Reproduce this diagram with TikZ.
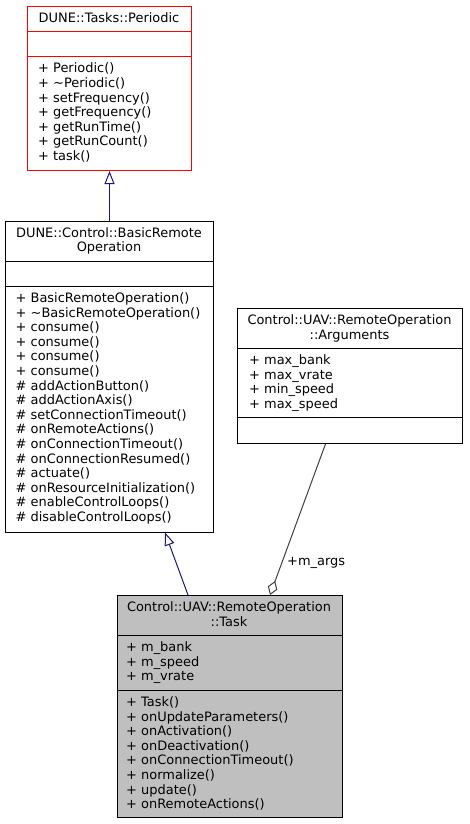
\documentclass[tikz,border=0pt]{standalone}
\usepackage{fontspec}
\setmainfont{DejaVu Sans}
\usetikzlibrary{arrows.meta,calc}
\definecolor{navy}{RGB}{25,25,112}
\definecolor{aggr}{RGB}{64,64,64}
\definecolor{taskfill}{RGB}{191,191,191}
\newcommand\umlfont{\fontsize{12.95}{14.6}\selectfont}
\newcommand\seclines[4]{%
  \foreach \t [count=\i from 0] in {#4} {\node[txt] (#1\i) at (#2,#3+14.6*\i) {\t};}}
\tikzset{
  box/.style={draw=black, line width=1pt, anchor=north west, inner sep=0pt},
  divider/.style={draw=black, line width=1pt},
  txt/.style={anchor=base west, inner sep=0pt, font=\umlfont},
  ttl/.style={anchor=base, inner sep=0pt, font=\umlfont},
  inh/.style={draw=navy, line width=1pt, -{Triangle[open,length=13pt,width=10pt]}},
  agg/.style={draw=aggr, line width=1pt, -{Diamond[open,length=15pt,width=10pt]}}
}
\begin{document}
\begin{tikzpicture}[x=1pt,y=-1pt]
\fill[white] (0,0) rectangle (469,824);
\useasboundingbox (0,0) rectangle (469,824);

% Periodic
\node[box, draw=red, minimum width=164pt, minimum height=164pt] (periodic) at (27,6) {};
\draw[divider, draw=red] (periodic.west |- 0,31.5) -- (periodic.east |- 0,31.5);
\draw[divider, draw=red] (periodic.west |- 0,56.5) -- (periodic.east |- 0,56.5);
\node[ttl] (periodic-t) at (109,22.5) {DUNE::Tasks::Periodic};
\seclines{pm}{38}{73}{{+ Periodic()},{+ \textasciitilde Periodic()},{+ setFrequency()},{+ getFrequency()},{+ getRunTime()},{+ getRunCount()},{+ task()}}

% BasicRemoteOperation
\node[box, minimum width=208pt, minimum height=311pt] (basic) at (5,220.5) {};
\draw[divider] (basic.west |- 0,261) -- (basic.east |- 0,261);
\draw[divider] (basic.west |- 0,286) -- (basic.east |- 0,286);
\node[ttl] (basic-t1) at (109,237) {DUNE::Control::BasicRemote};
\node[ttl] (basic-t2) at (109,251.6) {Operation};
\seclines{bm}{15.5}{302.5}{{+ BasicRemoteOperation()},{+ \textasciitilde BasicRemoteOperation()},{+ consume()},{+ consume()},{+ consume()},{+ consume()},{\# addActionButton()},{\# addActionAxis()},{\# setConnectionTimeout()},{\# onRemoteActions()},{\# onConnectionTimeout()},{\# onConnectionResumed()},{\# actuate()},{\# onResourceInitialization()},{\# enableControlLoops()},{\# disableControlLoops()}}

% Arguments
\node[box, minimum width=225pt, minimum height=135pt] (args) at (237,308) {};
\draw[divider] (args.west |- 0,348) -- (args.east |- 0,348);
\draw[divider] (args.west |- 0,417) -- (args.east |- 0,417);
\node[ttl] (args-t1) at (349.5,324.5) {Control::UAV::RemoteOperation};
\node[ttl] (args-t2) at (349.5,339.1) {::Arguments};
\seclines{aa}{249}{364.5}{{+ max\_bank},{+ max\_vrate},{+ min\_speed},{+ max\_speed}}

% Task
\node[box, fill=taskfill, minimum width=225.5pt, minimum height=222pt] (task) at (116.5,595) {};
\draw[divider] (task.west |- 0,635) -- (task.east |- 0,635);
\draw[divider] (task.west |- 0,690) -- (task.east |- 0,690);
\node[ttl] (task-t1) at (229,611.5) {Control::UAV::RemoteOperation};
\node[ttl] (task-t2) at (229,626.1) {::Task};
\seclines{ta}{126}{651.5}{{+ m\_bank},{+ m\_speed},{+ m\_vrate}}
\seclines{tm}{126}{706.5}{{+ Task()},{+ onUpdateParameters()},{+ onActivation()},{+ onDeactivation()},{+ onConnectionTimeout()},{+ normalize()},{+ update()},{+ onRemoteActions()}}

% connectors
\draw[inh] (basic.north) -- (periodic.south);
\draw[inh] ($(task.north west)+(71.5,0)$) -- ($(basic.south west)+(160,0)$);
\draw[agg] ($(args.south west)+(88.5,0)$) -- ($(task.north west)+(153.5,0)$);
\node[anchor=west, inner sep=0pt, font=\umlfont] (margs) at (287,563) {+m\_args};
\end{tikzpicture}
\end{document}
